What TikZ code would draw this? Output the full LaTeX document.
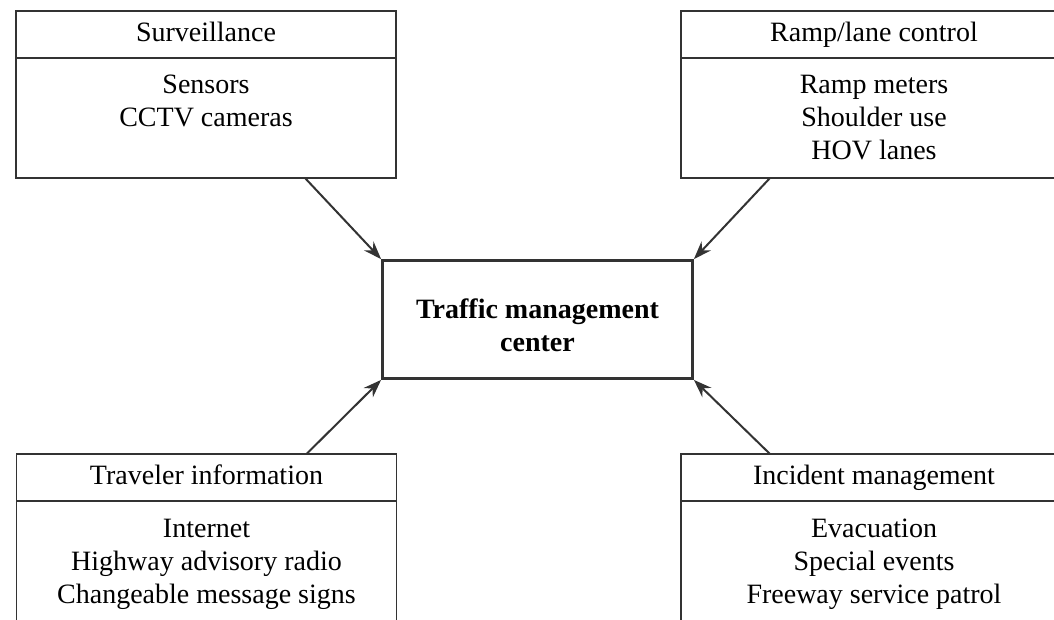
\documentclass[tikz,border=0pt]{standalone}
\usepackage{fontspec}
\setmainfont{Liberation Serif}
\usetikzlibrary{positioning,arrows.meta}
\colorlet{boxline}{black!80}

\begin{document}
\begin{tikzpicture}[x = 0.5pt, y = -0.5pt, node distance = 0pt]
     \useasboundingbox (0,0) rectangle (1054,620);
     \clip (0,0) rectangle (1054,620);
     \tikzset{HeadStyle/.style   = {draw         = boxline,
                                    line width   = 0.8pt,
                                    outer sep    = 0pt,
                                    inner sep    = 0pt,
                                    minimum width  = #1,
                                    minimum height = 23.5pt,
                                    text height  = 10pt,
                                    text depth   = 3pt,
                                    font = \fontsize{14}{16.5}\selectfont},
              BodyStyle/.style   = {HeadStyle = #1,
                                    text height  = 18pt,
                                    text depth   = 42pt},
              CenterStyle/.style = {draw         = boxline,
                                    line width   = 1.4pt,
                                    minimum width  = 155pt,
                                    minimum height = 59pt,
                                    text height  = 32pt,
                                    text depth   = 0pt,
                                    align        = center,
                                    font = \fontsize{14}{16.5}\selectfont\bfseries},
              ArrowStyle/.style  = {draw = boxline, line width = 1pt,
                                    -{Stealth[length = 9pt, width = 6.5pt]}}}
     \node[CenterStyle] (tmc) at (537.5,319.5) {Traffic management\\center};
     \node[HeadStyle = 190pt] (survhead) at (206,34.5) {Surveillance};
     \node[BodyStyle = 190pt, below = of survhead] (survbody)
          {\begin{tabular}[t]{c}Sensors\\CCTV cameras\end{tabular}};
     \node[HeadStyle = 193pt] (ramphead) at (874,34.5) {Ramp/lane control};
     \node[BodyStyle = 193pt, below = of ramphead] (rampbody)
          {\begin{tabular}[t]{c}Ramp meters\\Shoulder use\\HOV lanes\end{tabular}};
     \node[HeadStyle = 190pt] (travhead) at (206.5,477.5) {Traveler information};
     \node[BodyStyle = 190pt, text depth = 50pt, below = of travhead] (travbody)
          {\begin{tabular}[t]{c}Internet\\Highway advisory radio\\Changeable message signs\end{tabular}};
     \node[HeadStyle = 193pt] (inchead) at (874,477.5) {Incident management};
     \node[BodyStyle = 193pt, text depth = 50pt, below = of inchead] (incbody)
          {\begin{tabular}[t]{c}Evacuation\\Special events\\Freeway service patrol\end{tabular}};
     % fleches vers le centre
     \draw[ArrowStyle] ([xshift = 49.5pt]survbody.south) -- (tmc.north west);
     \draw[ArrowStyle] ([xshift = -52pt]rampbody.south) -- (tmc.north east);
     \draw[ArrowStyle] ([xshift = 50pt]travhead.north) -- (tmc.south west);
     \draw[ArrowStyle] ([xshift = -52pt]inchead.north) -- (tmc.south east);
\end{tikzpicture}
\end{document}
